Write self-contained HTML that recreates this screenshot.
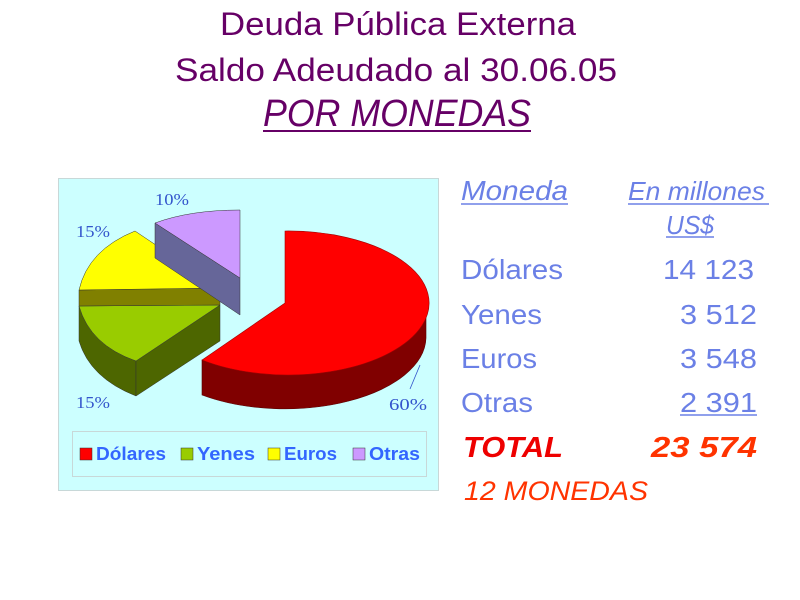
<!DOCTYPE html>
<html><head><meta charset="utf-8"><style>body{margin:0;background:#fff}svg{display:block}</style></head><body>
<svg width="800" height="600" xmlns="http://www.w3.org/2000/svg" font-family="'Liberation Sans', 'DejaVu Sans', sans-serif">
<rect width="800" height="600" fill="#fff"/>
<g fill="#660066" text-anchor="middle">
<text x="398" y="35" font-size="32" textLength="356" lengthAdjust="spacingAndGlyphs">Deuda Pública Externa</text>
<text x="396" y="81" font-size="32" textLength="442" lengthAdjust="spacingAndGlyphs">Saldo Adeudado al 30.06.05</text>
<text x="397" y="126" font-size="38" font-style="italic" textLength="268" lengthAdjust="spacingAndGlyphs">POR MONEDAS</text>
</g>
<line x1="263" y1="131" x2="531" y2="131" stroke="#660066" stroke-width="2"/>
<rect x="58.5" y="178.5" width="380" height="312" fill="#ccffff" stroke="#c8d8d8"/>
<path d="M202,360 L202,395 A141,72 0 0 0 426,338 L426,303 A141,72 0 0 1 202,360 Z" fill="#800000" stroke="#5a0000" stroke-width="0.6"/>
<path d="M285,303 L285,231 A141,72 0 1 1 202,360 Z" fill="#ff0000" stroke="#a00000" stroke-width="0.6"/>
<path d="M79,306 L79,341 Q90,378 136,396 L136,361 Q90,345 79,306 Z" fill="#4d6600" stroke="#333" stroke-width="0.5"/>
<path d="M136,361 L220,305 L220,341 L136,396 Z" fill="#4d6600" stroke="#333" stroke-width="0.5"/>
<path d="M79,306 L220,305 L136,361 Q90,345 79,306 Z" fill="#99cc00" stroke="#333" stroke-width="0.5"/>
<path d="M79,290 L220,288 L220,305 L79,306 Z" fill="#808000" stroke="#333" stroke-width="0.5"/>
<path d="M79,290 L220,288 L135,231 Q88,250 79,290 Z" fill="#ffff00" stroke="#333" stroke-width="0.5"/>
<path d="M155,223 L240,278 L240,315 L155,258 Z" fill="#666699" stroke="#333" stroke-width="0.5"/>
<path d="M155,223 Q190,210 240,210 L240,278 Z" fill="#cc99ff" stroke="#333" stroke-width="0.5"/>
<g font-family="'Liberation Serif', serif" font-size="17" fill="#3355cc">
<text x="155" y="205" textLength="34" lengthAdjust="spacingAndGlyphs">10%</text>
<text x="76" y="237" textLength="34" lengthAdjust="spacingAndGlyphs">15%</text>
<text x="76" y="408" textLength="34" lengthAdjust="spacingAndGlyphs">15%</text>
<text x="389" y="410" textLength="38" lengthAdjust="spacingAndGlyphs">60%</text>
</g>
<line x1="410" y1="389" x2="420" y2="365" stroke="#3355cc" stroke-width="0.8"/>
<rect x="72.5" y="431.5" width="354" height="45" fill="none" stroke="#c8d8d8"/>
<g font-size="18" font-weight="bold" fill="#3366ff">
<rect x="80" y="448" width="12" height="12" fill="#ff0000" stroke="#333" stroke-width="0.5"/>
<text x="96" y="460" textLength="70" lengthAdjust="spacingAndGlyphs">Dólares</text>
<rect x="181" y="448" width="12" height="12" fill="#99cc00" stroke="#333" stroke-width="0.5"/>
<text x="197" y="460" textLength="58" lengthAdjust="spacingAndGlyphs">Yenes</text>
<rect x="268" y="448" width="12" height="12" fill="#ffff00" stroke="#333" stroke-width="0.5"/>
<text x="284" y="460" textLength="53" lengthAdjust="spacingAndGlyphs">Euros</text>
<rect x="353" y="448" width="12" height="12" fill="#cc99ff" stroke="#333" stroke-width="0.5"/>
<text x="369" y="460" textLength="51" lengthAdjust="spacingAndGlyphs">Otras</text>
</g>
<g fill="#6b80e6" font-size="28">
<text x="461" y="200" font-style="italic" textLength="107" lengthAdjust="spacingAndGlyphs">Moneda</text>
<line x1="461" y1="204" x2="568" y2="204" stroke="#6b80e6" stroke-width="1.5"/>
<text x="628" y="200" font-style="italic" font-size="26" textLength="137" lengthAdjust="spacingAndGlyphs">En millones</text>
<line x1="628" y1="204" x2="769" y2="204" stroke="#6b80e6" stroke-width="1.5"/>
<text x="666" y="234" font-style="italic" font-size="26" textLength="48" lengthAdjust="spacingAndGlyphs">US$</text>
<line x1="666" y1="237" x2="714" y2="237" stroke="#6b80e6" stroke-width="1.5"/>
<text x="461" y="279" textLength="102" lengthAdjust="spacingAndGlyphs">Dólares</text>
<text x="461" y="324" textLength="81" lengthAdjust="spacingAndGlyphs">Yenes</text>
<text x="461" y="368" textLength="76" lengthAdjust="spacingAndGlyphs">Euros</text>
<text x="461" y="412" textLength="72" lengthAdjust="spacingAndGlyphs">Otras</text>
<text x="663" y="279" textLength="91" lengthAdjust="spacingAndGlyphs">14 123</text>
<text x="680" y="324" textLength="77" lengthAdjust="spacingAndGlyphs">3 512</text>
<text x="680" y="368" textLength="77" lengthAdjust="spacingAndGlyphs">3 548</text>
<text x="680" y="412" textLength="77" lengthAdjust="spacingAndGlyphs">2 391</text>
<line x1="680" y1="415" x2="757" y2="415" stroke="#6b80e6" stroke-width="1.5"/>
</g>
<text x="463" y="457" font-size="29" font-weight="bold" font-style="italic" fill="#ee0000" textLength="100" lengthAdjust="spacingAndGlyphs">TOTAL</text>
<text x="651" y="457" font-size="29" font-weight="bold" font-style="italic" fill="#ff3300" textLength="106" lengthAdjust="spacingAndGlyphs">23 574</text>
<text x="464" y="500" font-size="27" font-style="italic" fill="#ff3300" textLength="184" lengthAdjust="spacingAndGlyphs">12 MONEDAS</text>
</svg>
</body></html>
